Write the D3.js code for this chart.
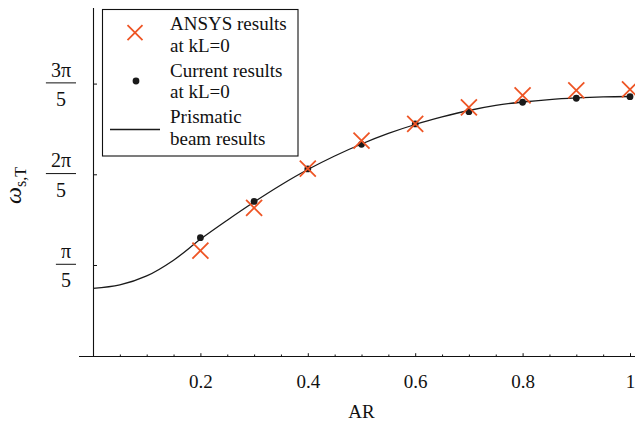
<!DOCTYPE html>
<html><head><meta charset="utf-8">
<script src="https://cdn.jsdelivr.net/npm/d3@7"></script>
<style>
html,body{margin:0;padding:0;background:#fff;}
text{font-family:"Liberation Serif","Times New Roman",serif;fill:#111;}
</style></head>
<body><svg id="c" width="635" height="423"></svg>
<script>
// ---- data ----
const curveAR = [0,0.05,0.1,0.15,0.2,0.25,0.3,0.35,0.4,0.45,0.5,0.55,0.6,0.65,0.7,0.75,0.8,0.85,0.9,0.95,1.0];
const curveOmega = [0.470,0.494,0.556,0.665,0.810,0.942,1.068,1.186,1.293,1.387,1.470,1.543,1.605,1.657,1.702,1.737,1.761,1.778,1.789,1.796,1.799];
const pointAR = [0.2,0.3,0.4,0.5,0.6,0.7,0.8,0.9,1.0];
const currentOmega = [0.821,1.072,1.297,1.468,1.609,1.694,1.759,1.787,1.798];
const ansysOmega = [0.731,1.027,1.300,1.493,1.609,1.724,1.806,1.842,1.848];
const xMajorTicks = [0.2,0.4,0.6,0.8,1];
const xMinorTicks = [0.05,0.1,0.15,0.25,0.3,0.35,0.45,0.5,0.55,0.65,0.7,0.75,0.85,0.9,0.95];
const yTickValues = [Math.PI/5, 2*Math.PI/5, 3*Math.PI/5];
const yTickNum = ["π","2π","3π"];
const yTickDen = ["5","5","5"];
const legendLabels = [["ANSYS results","at kL=0"],["Current results","at kL=0"],["Prismatic","beam results"]];
const xLabel = "AR";

// ---- layout ----
const svg = d3.select("#c");
const FS = 19;
const red = "#EE5525";
const x = d3.scaleLinear().domain([0,1]).range([93,630]);
const y = d3.scaleLinear().domain([0,2.412]).range([356.2,8]);

// x axis
const gx = svg.append("g").attr("transform","translate(0,356.5)");
gx.append("line").attr("x1",79).attr("x2",635).attr("stroke","#111").attr("stroke-width",1.1);
gx.append("g").call(d3.axisBottom(x).tickValues(xMinorTicks).tickSizeInner(-2).tickSizeOuter(0).tickFormat(""))
  .call(g=>g.select(".domain").remove()).selectAll("line").attr("stroke","#111");
const gMaj = gx.append("g").call(d3.axisBottom(x).tickValues(xMajorTicks).tickSizeInner(-3.3).tickSizeOuter(0).tickPadding(0).tickFormat(d=>String(d)));
gMaj.select(".domain").remove();
gMaj.selectAll("line").attr("stroke","#111");
gMaj.selectAll("text").attr("font-size",FS).attr("font-family",null).attr("fill","#111").attr("dy",null).attr("y",31.8);

// y axis
const gy = svg.append("g");
gy.append("line").attr("x1",93.5).attr("x2",93.5).attr("y1",8).attr("y2",356.5).attr("stroke","#111").attr("stroke-width",1.1);
gy.selectAll(".yt").data(yTickValues).join("line").attr("class","yt")
  .attr("x1",93.5).attr("x2",97).attr("y1",d=>y(d)).attr("y2",d=>y(d)).attr("stroke","#111");
const fr = gy.selectAll(".fr").data(yTickValues).join("g").attr("class","fr")
  .attr("transform",d=>`translate(0,${y(d)})`);
fr.each(function(d,i){
  const g = d3.select(this);
  const num = g.append("text").attr("font-size",FS+1).attr("y",-7.5).attr("text-anchor","middle").text(yTickNum[i]);
  const w = num.node().getComputedTextLength() + 10;
  const cx = 76 - w/2;
  num.attr("x",cx);
  g.append("line").attr("x1",76-w).attr("x2",76).attr("y1",-1.2).attr("y2",-1.2).attr("stroke","#111").attr("stroke-width",1);
  g.append("text").attr("font-size",FS+1).attr("y",21.8).attr("x",cx).attr("text-anchor","middle").text(yTickDen[i]);
});

// axis labels
svg.append("text").attr("x",x(0.5)).attr("y",418).attr("text-anchor","middle").attr("font-size",FS).text(xLabel);
const yl = svg.append("text").attr("transform","translate(21,204) rotate(-90)").attr("font-size",24);
yl.append("tspan").attr("font-style","italic").text("ω");
yl.append("tspan").attr("font-size",16).attr("dy",5).text("s,T");

// curve
const line = d3.line().x(d=>x(d[0])).y(d=>y(d[1])).curve(d3.curveCatmullRom.alpha(0.5));
svg.append("path").datum(curveAR.map((a,i)=>[a,curveOmega[i]]))
  .attr("d",line).attr("fill","none").attr("stroke","#1a1a1a").attr("stroke-width",1.3);

// current results dots
svg.selectAll(".dot").data(pointAR).join("circle").attr("class","dot")
  .attr("cx",d=>x(d)).attr("cy",(d,i)=>y(currentOmega[i])).attr("r",3.4).attr("fill","#1a1a1a");

// ANSYS crosses
const S = 8;
const cross = (g,cx,cy,s)=>{
  g.append("path").attr("d",`M${cx-s},${cy-s}L${cx+s},${cy+s}M${cx-s},${cy+s}L${cx+s},${cy-s}`)
   .attr("stroke",red).attr("stroke-width",1.8).attr("fill","none");
};
const gc = svg.append("g");
pointAR.forEach((a,i)=>cross(gc,x(a),y(ansysOmega[i]),S));

// legend
const lg = svg.append("g");
lg.append("rect").attr("x",102.5).attr("y",9.5).attr("width",195.5).attr("height",146.5)
  .attr("fill","#fff").attr("stroke","#111").attr("stroke-width",1.1);
const baseY = [30,76.5,123];
legendLabels.forEach((lines,i)=>{
  lines.forEach((t,j)=>{
    lg.append("text").attr("x",170).attr("y",baseY[i]+j*21.7).attr("font-size",FS).text(t);
  });
});
cross(lg,135,32.7,7.5);
lg.append("circle").attr("cx",136).attr("cy",81).attr("r",3.4).attr("fill","#1a1a1a");
lg.append("line").attr("x1",110).attr("x2",160).attr("y1",129.5).attr("y2",129.5).attr("stroke","#1a1a1a").attr("stroke-width",1.3);
</script></body></html>
